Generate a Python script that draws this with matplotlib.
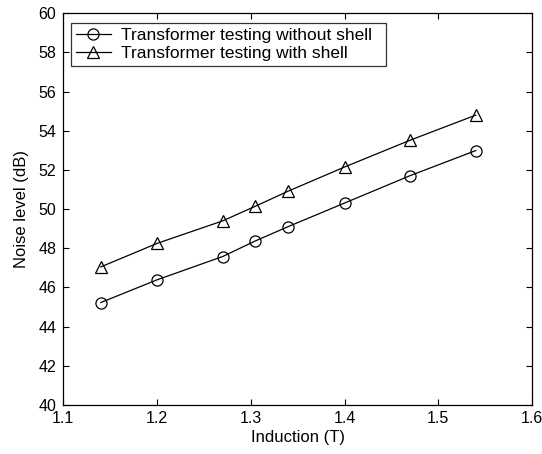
import matplotlib
matplotlib.use("Agg")
import matplotlib.pyplot as plt

plt.rcParams['font.family'] = ['Liberation Sans', 'DejaVu Sans']

induction = [1.14, 1.20, 1.27, 1.305, 1.34, 1.40, 1.47, 1.54]
noise_without_shell = [45.23, 46.39, 47.58, 48.38, 49.11, 50.31, 51.71, 52.99]
noise_with_shell = [47.05, 48.25, 49.40, 50.15, 50.92, 52.15, 53.52, 54.80]
label_without = 'Transformer testing without shell'
label_with = 'Transformer testing with shell'
xticks = [1.1, 1.2, 1.3, 1.4, 1.5, 1.6]
yticks = [40, 42, 44, 46, 48, 50, 52, 54, 56, 58, 60]

fig = plt.figure(figsize=(5.42, 4.54), dpi=100)
ax = fig.add_axes([0.1168, 0.108, 0.8647, 0.8627])

ax.plot(induction, noise_without_shell, color='black', linewidth=0.9,
        marker='o', markersize=8, markerfacecolor='none', markeredgecolor='black',
        markeredgewidth=0.9, label=label_without)
ax.plot(induction, noise_with_shell, color='black', linewidth=0.9,
        marker='^', markersize=9, markerfacecolor='none', markeredgecolor='black',
        markeredgewidth=0.9, label=label_with)

ax.set_xlim(1.1, 1.6)
ax.set_ylim(40, 60)
ax.set_xticks(xticks)
ax.set_xticklabels([f'{t:g}' for t in xticks])
ax.set_yticks(yticks)
ax.tick_params(direction='in', length=4, width=0.8, labelsize=11.5, top=True, right=True)
ax.tick_params(axis='x', pad=4)
ax.tick_params(axis='y', pad=5)
for s in ax.spines.values():
    s.set_linewidth(0.9)

ax.set_xlabel('Induction (T)', fontsize=12, labelpad=3)
ax.set_ylabel('Noise level (dB)', fontsize=12, labelpad=7)

leg = ax.legend(loc='upper left', bbox_to_anchor=(0.0158, 0.976, 0.673, 0.0),
                mode='expand', borderaxespad=0,
                fontsize=12.5, frameon=True, fancybox=False, handlelength=2.0,
                handletextpad=0.6, borderpad=0.3, labelspacing=0.15)
leg.get_frame().set_edgecolor('black')
leg.get_frame().set_linewidth(0.9)

fig.savefig('out.png', dpi=100)
